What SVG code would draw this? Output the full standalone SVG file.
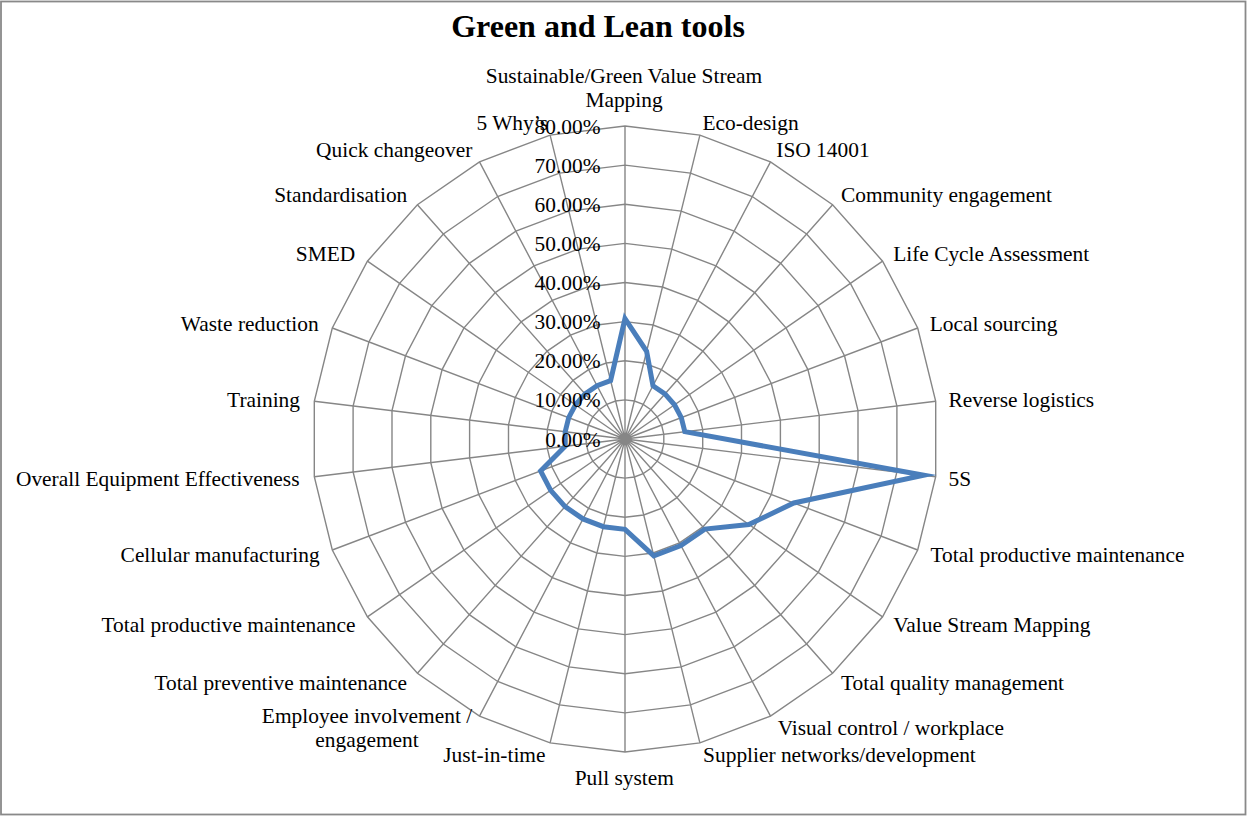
<svg xmlns="http://www.w3.org/2000/svg" width="1247" height="817" viewBox="0 0 1247 817">
<style>
.bg{fill:#ffffff;stroke:#898989;stroke-width:1.8}
.ring{fill:none;stroke:#868686;stroke-width:1.4}
.spoke{fill:none;stroke:#868686;stroke-width:1.4}
.data{fill:none;stroke:#4a7ebb;stroke-width:5;stroke-linejoin:miter;stroke-miterlimit:10}
text{font-family:"Liberation Serif","Times New Roman",serif;font-size:21.4px;fill:#000}
.title{font-size:32px;font-weight:bold}
.l{text-anchor:end}
.r{text-anchor:start}
.m{text-anchor:middle}
</style>
<rect class="bg" x="1" y="1.5" width="1244.5" height="813"/>
<text id="title" class="title m" x="598" y="37">Green and Lean tools</text>
<g id="grid">
<polygon class="ring" points="625,399.9 634.4,401 643.2,404.4 650.9,409.7 657.2,416.8 661.6,425.1 663.8,434.3 663.8,443.7 661.6,452.9 657.2,461.2 650.9,468.3 643.2,473.6 634.4,477 625,478.1 615.6,477 606.8,473.6 599.1,468.3 592.8,461.2 588.4,452.9 586.2,443.7 586.2,434.3 588.4,425.1 592.8,416.8 599.1,409.7 606.8,404.4 615.6,401"/>
<polygon class="ring" points="625,360.75 643.7,363 661.4,369.7 676.9,380.4 689.4,394.5 698.2,411.3 702.7,429.6 702.7,448.4 698.2,466.7 689.4,483.5 676.9,497.6 661.4,508.3 643.7,515 625,517.25 606.3,515 588.6,508.3 573.1,497.6 560.6,483.5 551.8,466.7 547.3,448.4 547.3,429.6 551.8,411.3 560.6,394.5 573.1,380.4 588.6,369.7 606.3,363"/>
<polygon class="ring" points="625,321.6 653.1,325 679.5,335.1 702.8,351.1 721.6,372.3 734.7,397.4 741.5,424.9 741.5,453.1 734.7,480.6 721.6,505.7 702.8,526.9 679.5,542.9 653.1,553 625,556.4 596.9,553 570.5,542.9 547.2,526.9 528.4,505.7 515.3,480.6 508.5,453.1 508.5,424.9 515.3,397.4 528.4,372.3 547.2,351.1 570.5,335.1 596.9,325"/>
<polygon class="ring" points="625,282.5 662.5,287 697.7,300.4 728.8,321.9 753.8,350.1 771.3,383.5 780.4,420.1 780.4,457.9 771.3,494.5 753.8,527.9 728.8,556.1 697.7,577.6 662.5,591 625,595.5 587.5,591 552.3,577.6 521.2,556.1 496.2,527.9 478.7,494.5 469.6,457.9 469.6,420.1 478.7,383.5 496.2,350.1 521.2,321.9 552.3,300.4 587.5,287"/>
<polygon class="ring" points="625,243.4 671.8,249.1 715.9,265.8 754.7,292.6 786,327.9 807.9,369.6 819.2,415.4 819.2,462.6 807.9,508.4 786,550.1 754.7,585.4 715.9,612.2 671.8,628.9 625,634.6 578.2,628.9 534.1,612.2 495.3,585.4 464,550.1 442.1,508.4 430.8,462.6 430.8,415.4 442.1,369.6 464,327.9 495.3,292.6 534.1,265.8 578.2,249.1"/>
<polygon class="ring" points="625,204.25 681.2,211.1 734.1,231.1 780.7,263.3 818.2,305.6 844.5,355.8 858,410.7 858,467.3 844.5,522.2 818.2,572.4 780.7,614.7 734.1,646.9 681.2,666.9 625,673.75 568.8,666.9 515.9,646.9 469.3,614.7 431.8,572.4 405.5,522.2 392,467.3 392,410.7 405.5,355.8 431.8,305.6 469.3,263.3 515.9,231.1 568.8,211.1"/>
<polygon class="ring" points="625,165.1 690.5,173.1 752.3,196.5 806.6,234 850.4,283.4 881.1,341.9 896.9,406 896.9,472 881.1,536.1 850.4,594.6 806.6,644 752.3,681.5 690.5,704.9 625,712.9 559.5,704.9 497.7,681.5 443.4,644 399.6,594.6 368.9,536.1 353.1,472 353.1,406 368.9,341.9 399.6,283.4 443.4,234 497.7,196.5 559.5,173.1"/>
<polygon class="ring" points="625,126 699.9,135.1 770.5,161.9 832.6,204.7 882.6,261.2 917.7,328 935.7,401.3 935.7,476.7 917.7,550 882.6,616.8 832.6,673.3 770.5,716.1 699.9,742.9 625,752 550.1,742.9 479.5,716.1 417.4,673.3 367.4,616.8 332.3,550 314.3,476.7 314.3,401.3 332.3,328 367.4,261.2 417.4,204.7 479.5,161.9 550.1,135.1"/>
<path class="spoke" d="M625 439L625 126M625 439L699.9 135.1M625 439L770.5 161.9M625 439L832.6 204.7M625 439L882.6 261.2M625 439L917.7 328M625 439L935.7 401.3M625 439L935.7 476.7M625 439L917.7 550M625 439L882.6 616.8M625 439L832.6 673.3M625 439L770.5 716.1M625 439L699.9 742.9M625 439L625 752M625 439L550.1 742.9M625 439L479.5 716.1M625 439L417.4 673.3M625 439L367.4 616.8M625 439L332.3 550M625 439L314.3 476.7M625 439L314.3 401.3M625 439L332.3 328M625 439L367.4 261.2M625 439L417.4 204.7M625 439L479.5 161.9M625 439L550.1 135.1"/>
</g>
<g id="series">
<polygon class="data" points="625,318.6 646.6,351.3 653,385.7 664.9,393.9 674.5,404.8 681.3,417.7 684.8,431.7 923.8,475.3 793.8,503 748.8,524.5 704.8,529.1 680.9,545.6 653.8,555.9 625,529.3 603.4,526.7 583,518.9 565.1,506.6 550.7,490.3 540.6,471 565.2,446.3 565.2,431.7 568.7,417.7 575.5,404.8 585.1,393.9 597,385.7 610.6,380.6"/>
</g>
<g id="value-axis">
<text class="l" x="600.5" y="446.5">0.00%</text>
<text class="l" x="600.5" y="407.4">10.00%</text>
<text class="l" x="600.5" y="368.3">20.00%</text>
<text class="l" x="600.5" y="329.1">30.00%</text>
<text class="l" x="600.5" y="290">40.00%</text>
<text class="l" x="600.5" y="250.9">50.00%</text>
<text class="l" x="600.5" y="211.8">60.00%</text>
<text class="l" x="600.5" y="172.6">70.00%</text>
<text class="l" x="600.5" y="133.5">80.00%</text>
</g>
<g id="category-labels">
<text class="m" x="624" y="83">Sustainable/Green Value Stream</text>
<text class="m" x="624" y="107">Mapping</text>
<text class="r" x="702.4" y="130">Eco-design</text>
<text class="r" x="776.3" y="157">ISO 14001</text>
<text class="r" x="841" y="202">Community engagement</text>
<text class="r" x="893.2" y="261">Life Cycle Assessment</text>
<text class="r" x="929.8" y="331">Local sourcing</text>
<text class="r" x="948.6" y="407">Reverse logistics</text>
<text class="r" x="948.6" y="486">5S</text>
<text class="r" x="930.5" y="562">Total productive maintenance</text>
<text class="r" x="893.2" y="632">Value Stream Mapping</text>
<text class="r" x="841" y="689.5">Total quality management</text>
<text class="r" x="777.7" y="734.5">Visual control / workplace</text>
<text class="r" x="703.1" y="762">Supplier networks/development</text>
<text class="m" x="624.3" y="784.5">Pull system</text>
<text class="l" x="545.5" y="762">Just-in-time</text>
<text class="m" x="367" y="722.7">Employee involvement /</text>
<text class="m" x="367" y="746.5">engagement</text>
<text class="l" x="407.1" y="689.5">Total preventive maintenance</text>
<text class="l" x="355.4" y="632">Total productive maintenance</text>
<text class="l" x="319.6" y="562">Cellular manufacturing</text>
<text class="l" x="299.5" y="486">Overall Equipment Effectiveness</text>
<text class="l" x="300" y="407">Training</text>
<text class="l" x="318.7" y="331">Waste reduction</text>
<text class="l" x="355.3" y="261">SMED</text>
<text class="l" x="407.3" y="201.5">Standardisation</text>
<text class="l" x="472.3" y="157">Quick changeover</text>
<text class="l" x="548" y="130">5 Why’s</text>
</g>
</svg>
